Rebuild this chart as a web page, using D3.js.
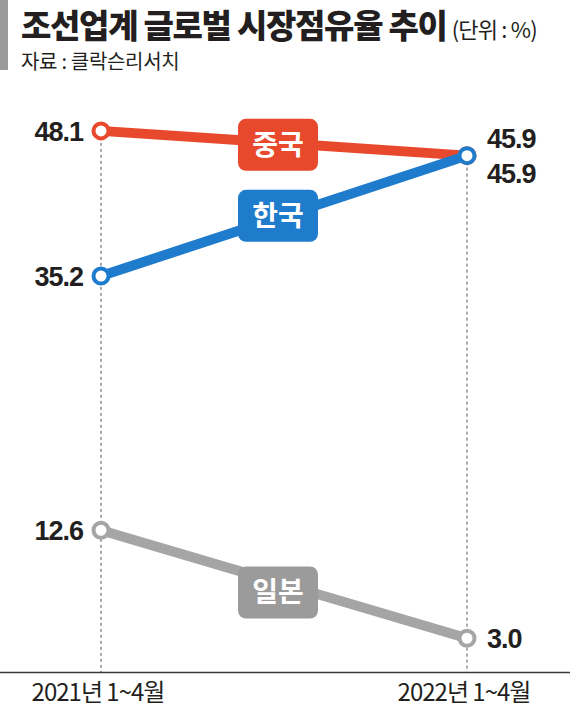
<!DOCTYPE html>
<html>
<head>
<meta charset="utf-8">
<script src="https://cdn.jsdelivr.net/npm/d3@7"></script>
<style>
  body { margin: 0; background: #fff; }
  text { font-family: "Noto Sans CJK KR", "Noto Sans", sans-serif; }
  .num { font-family: "Liberation Sans", Arial, sans-serif; font-weight: bold; }
</style>
</head>
<body>
<script>
// data
var periods = ["2021년 1~4월", "2022년 1~4월"];
var countries = ["중국", "한국", "일본"];
var chinaShare = [48.1, 45.9];
var koreaShare = [35.2, 45.9];
var japanShare = [12.6, 3.0];

var svgWidth = 570;
var svgHeight = 714;

var colors = { "중국": "#e8482b", "한국": "#1f7bcb", "일본": "#a5a5a5" };
var boxColors = { "중국": "#e8482b", "한국": "#1f7bcb", "일본": "#9b9b9b" };
// nudge of name boxes relative to line midpoint
var boxNudge = { "중국": 2, "한국": -2, "일본": 10 };

var series = [
  { name: "중국", values: chinaShare },
  { name: "한국", values: koreaShare },
  { name: "일본", values: japanShare }
];

var svg = d3.select("body").append("svg")
  .attr("width", svgWidth)
  .attr("height", svgHeight);

var x = d3.scalePoint().domain(periods).range([101, 467]);
var y = d3.scaleLinear().domain([0, 50]).range([672, 672 - 50 * 11.25]);

// header
svg.append("rect").attr("x", 0).attr("y", 0).attr("width", 8).attr("height", 70).attr("fill", "#9a9a9a");
var title = svg.append("text").attr("x", 21).attr("y", 38);
title.append("tspan").attr("font-size", 33).attr("font-weight", 900).attr("fill", "#231f20")
  .attr("letter-spacing", -1.3).text("조선업계 글로벌 시장점유율 추이");
title.append("tspan").attr("font-size", 22).attr("fill", "#231f20").attr("dx", 5)
  .attr("letter-spacing", -0.8).text("(단위 : %)");
svg.append("text").attr("x", 21).attr("y", 69).attr("font-size", 20).attr("fill", "#231f20")
  .attr("letter-spacing", -0.3).text("자료 : 클락슨리서치");

// dashed guides
var guideTop = periods.map(function(p, i) {
  return d3.max(series, function(s) { return s.values[i]; });
});
svg.selectAll(".guide")
  .data(periods)
  .enter()
  .append("line")
  .attr("x1", function(d) { return x(d); })
  .attr("x2", function(d) { return x(d); })
  .attr("y1", function(d, i) { return y(guideTop[i]); })
  .attr("y2", y(0))
  .attr("stroke", "#555")
  .attr("stroke-width", 1)
  .attr("stroke-dasharray", "3,3");

// baseline
svg.append("line")
  .attr("x1", 0).attr("x2", svgWidth)
  .attr("y1", y(0) + 0.5).attr("y2", y(0) + 0.5)
  .attr("stroke", "#3a3a3a").attr("stroke-width", 1.3);

// x labels
svg.selectAll(".xlab")
  .data(periods)
  .enter()
  .append("text")
  .attr("x", function(d) { return x(d) - 3; })
  .attr("y", 701)
  .attr("text-anchor", "middle")
  .attr("font-size", 24)
  .attr("letter-spacing", -1)
  .attr("fill", "#231f20")
  .text(function(d) { return d; });

var line = d3.line()
  .x(function(d, i) { return x(periods[i]); })
  .y(function(d) { return y(d); });

var groups = svg.selectAll(".series")
  .data(series)
  .enter()
  .append("g");

groups.append("path")
  .attr("d", function(d) { return line(d.values); })
  .attr("fill", "none")
  .attr("stroke", function(d) { return colors[d.name]; })
  .attr("stroke-width", 10);

// name boxes
groups.each(function(d) {
  var g = d3.select(this);
  var mx = (x(periods[0]) + x(periods[1])) / 2 - 6;
  var t = (mx - x(periods[0])) / (x(periods[1]) - x(periods[0]));
  var my = y(d.values[0] + (d.values[1] - d.values[0]) * t) + boxNudge[d.name];
  var bw = 80, bh = 52;
  g.append("rect")
    .attr("x", mx - bw / 2).attr("y", my - bh / 2)
    .attr("width", bw).attr("height", bh)
    .attr("rx", 8)
    .attr("fill", boxColors[d.name]);
  g.append("text")
    .attr("x", mx).attr("y", my + 10)
    .attr("text-anchor", "middle")
    .attr("font-size", 28)
    .attr("font-weight", "bold")
    .attr("fill", "#fff")
    .text(d.name);
});

// points
groups.selectAll("circle")
  .data(function(d) { return d.values.map(function(v, i) { return { name: d.name, v: v, i: i }; }); })
  .enter()
  .append("circle")
  .attr("cx", function(d) { return x(periods[d.i]); })
  .attr("cy", function(d) { return y(d.v); })
  .attr("r", 7.5)
  .attr("fill", "#fff")
  .attr("stroke", function(d) { return colors[d.name]; })
  .attr("stroke-width", 4);

// value labels, left side
svg.selectAll(".vl")
  .data(series)
  .enter()
  .append("text")
  .attr("class", "num")
  .attr("x", x(periods[0]) - 18)
  .attr("y", function(d) { return y(d.values[0]) + 10; })
  .attr("text-anchor", "end")
  .attr("font-size", 27)
  .attr("letter-spacing", -1)
  .attr("fill", "#231f20")
  .text(function(d) { return d.values[0].toFixed(1); });

// value labels, right side (China above, Korea below where equal)
var rightNudge = { "중국": -18, "한국": 17, "일본": 0 };
svg.selectAll(".vr")
  .data(series)
  .enter()
  .append("text")
  .attr("class", "num")
  .attr("x", x(periods[1]) + 20)
  .attr("y", function(d) { return y(d.values[1]) + 10 + rightNudge[d.name]; })
  .attr("text-anchor", "start")
  .attr("font-size", 27)
  .attr("letter-spacing", -1)
  .attr("fill", "#231f20")
  .text(function(d) { return d.values[1].toFixed(1); });
</script>
</body>
</html>
